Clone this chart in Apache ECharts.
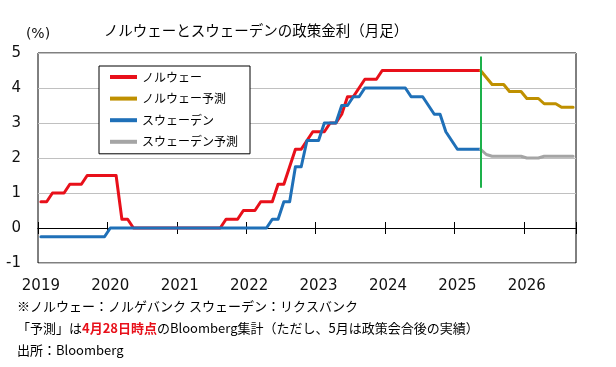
<!DOCTYPE html>
<html><head><meta charset="utf-8">
<script src="https://cdn.jsdelivr.net/npm/echarts@6/dist/echarts.min.js"></script>
<style>html,body{margin:0;padding:0;background:#fff}#c{width:616px;height:367px}</style>
</head><body><div id="c"></div>
<script>
// ---- data ----
const startYear = 2019;
const monthCount = 93; // 2019-01 .. 2026-09
const categories = [];
for (let i = 0; i < monthCount; i++) {
  const y = startYear + Math.floor(i / 12), m = i % 12 + 1;
  categories.push(y + '-' + String(m).padStart(2, '0'));
}
const yearLabels = ['2019','2020','2021','2022','2023','2024','2025','2026'];

// month-end policy rates, 2019-01 .. 2025-05
const norwayActual = [
  0.75,0.75,1.0,1.0,1.0,1.25,1.25,1.25,1.5,1.5,1.5,1.5,
  1.5,1.5,0.25,0.25,0,0,0,0,0,0,0,0,
  0,0,0,0,0,0,0,0,0.25,0.25,0.25,0.5,
  0.5,0.5,0.75,0.75,0.75,1.25,1.25,1.75,2.25,2.25,2.5,2.75,
  2.75,2.75,3.0,3.0,3.25,3.75,3.75,4.0,4.25,4.25,4.25,4.5,
  4.5,4.5,4.5,4.5,4.5,4.5,4.5,4.5,4.5,4.5,4.5,4.5,
  4.5,4.5,4.5,4.5,4.5
];
const swedenActual = [
  -0.25,-0.25,-0.25,-0.25,-0.25,-0.25,-0.25,-0.25,-0.25,-0.25,-0.25,-0.25,
  0,0,0,0,0,0,0,0,0,0,0,0,
  0,0,0,0,0,0,0,0,0,0,0,0,
  0,0,0,0,0.25,0.25,0.75,0.75,1.75,1.75,2.5,2.5,
  2.5,3.0,3.0,3.0,3.5,3.5,3.75,3.75,4.0,4.0,4.0,4.0,
  4.0,4.0,4.0,4.0,3.75,3.75,3.75,3.5,3.25,3.25,2.75,2.5,
  2.25,2.25,2.25,2.25,2.25
];
// forecasts, 2025-05 .. 2026-09
const forecastStart = '2025-05';
const norwayForecast = [4.5,4.3,4.1,4.1,4.1,3.9,3.9,3.9,3.7,3.7,3.7,3.55,3.55,3.55,3.45,3.45,3.45];
const swedenForecast = [2.25,2.1,2.05,2.05,2.05,2.05,2.05,2.05,2.0,2.0,2.0,2.05,2.05,2.05,2.05,2.05,2.05];

const seriesNames = ['ノルウェー','ノルウェー予測','スウェーデン','スウェーデン予測'];
const seriesColors = ['#E8101A','#BF9000','#1F70B8','#A5A5A5'];
const marker = { month: '2025-05', from: 4.9, to: 1.15 };

const titleText = 'ノルウェーとスウェーデンの政策金利（月足）';
const note1 = '※ノルウェー：ノルゲバンク スウェーデン：リクスバンク';
const note2a = '「予測」は', note2b = '4月28日時点', note2c = 'のBloomberg集計（ただし、5月は政策会合後の実績）';
const note3 = '出所：Bloomberg';

// ---- build ----
function place(arr, offset) {
  const out = new Array(monthCount).fill(null);
  arr.forEach((v, i) => { out[offset + i] = v; });
  return out;
}
const fi = categories.indexOf(forecastStart);
const seriesData = [place(norwayActual, 0), place(norwayForecast, fi), place(swedenActual, 0), place(swedenForecast, fi)];

const jp = '"Noto Sans CJK JP", sans-serif';
const num = '"DejaVu Sans", sans-serif';

const baseX = {
  type: 'category', data: categories, boundaryGap: true, position: 'bottom',
  splitLine: { show: false }
};

const option = {
  animation: false,
  backgroundColor: '#fff',
  grid: { left: 38, right: 40, top: 53, bottom: 104, show: true, borderColor: '#000', borderWidth: 1, backgroundColor: 'transparent' },
  xAxis: [
    Object.assign({}, baseX, {
      axisLine: { show: true, onZero: true, onZeroAxisIndex: 0, lineStyle: { color: '#000', width: 1 } },
      axisTick: { show: true, interval: 11, length: 6, inside: false, lineStyle: { color: '#000', width: 1 } },
      axisLabel: { show: false }
    }),
    Object.assign({}, baseX, {
      axisLine: { show: true, onZero: true, onZeroAxisIndex: 0, lineStyle: { color: '#000', width: 1 } },
      axisTick: { show: true, interval: 11, length: 6, inside: true, lineStyle: { color: '#000', width: 1 } },
      axisLabel: { show: false }
    }),
    Object.assign({}, baseX, {
      axisLine: { show: false, onZero: false },
      axisTick: { show: false },
      axisLabel: {
        interval: 11, margin: 16, fontSize: 15, fontFamily: num, color: '#111',
        formatter: v => (yearLabels.indexOf(v.slice(0, 4)) >= 0 && v.endsWith('-01')) ? v.slice(0, 4) : ''
      }
    })
  ],
  yAxis: {
    type: 'value', min: -1, max: 5, interval: 1,
    axisLine: { show: false }, axisTick: { show: false },
    axisLabel: { margin: 17, fontSize: 15, fontFamily: num, color: '#111' },
    splitLine: { lineStyle: { color: '#C0C0C0', width: 1 } },
    name: '(%)', nameLocation: 'end', nameGap: 12,
    nameTextStyle: { fontSize: 14, fontFamily: num, color: '#111', align: 'center' }
  },
  legend: {
    orient: 'vertical', left: 99, top: 66, icon: 'rect', itemWidth: 27, itemHeight: 4, itemGap: 7.6,
    padding: [4, 12, 5, 11], borderColor: '#000', borderWidth: 1, borderRadius: 0, backgroundColor: '#fff',
    textStyle: { fontSize: 12, fontFamily: jp, color: '#000', lineHeight: 14 },
    data: seriesNames
  },
  series: seriesNames.map((name, k) => {
    const s = {
      name, type: 'line', data: seriesData[k], xAxisIndex: 0, symbol: 'none', connectNulls: false,
      itemStyle: { color: seriesColors[k] },
      lineStyle: { color: seriesColors[k], width: 3, cap: 'round', join: 'round' }
    };
    if (k === seriesNames.length - 1) {
      s.markLine = {
        silent: true, symbol: ['none', 'none'], label: { show: false }, z: 10,
        lineStyle: { color: '#1DB14B', width: 2, type: 'solid' },
        data: [[{ coord: [marker.month, marker.from] }, { coord: [marker.month, marker.to] }]]
      };
    }
    return s;
  }),
  graphic: [
    { type: 'text', x: 256, y: 30, style: { text: titleText, fontSize: 14.5, fontFamily: jp, fill: '#000', align: 'center', verticalAlign: 'middle' } },
    { type: 'text', x: 17, y: 306, style: { text: note1, fontSize: 13, fontFamily: jp, fill: '#000', verticalAlign: 'middle' } },
    { type: 'text', x: 17, y: 328, style: {
        text: note2a + '{r|' + note2b + '}' + note2c, fontSize: 13, fontFamily: jp, fill: '#000', verticalAlign: 'middle',
        rich: { r: { fill: '#E8101A', fontWeight: 'bold', fontSize: 13, fontFamily: jp } } } },
    { type: 'text', x: 17, y: 350, style: { text: note3, fontSize: 13, fontFamily: jp, fill: '#000', verticalAlign: 'middle' } }
  ]
};
const chart = echarts.init(document.getElementById('c'), null, { renderer: 'canvas' });
chart.setOption(option);
</script></body></html>
